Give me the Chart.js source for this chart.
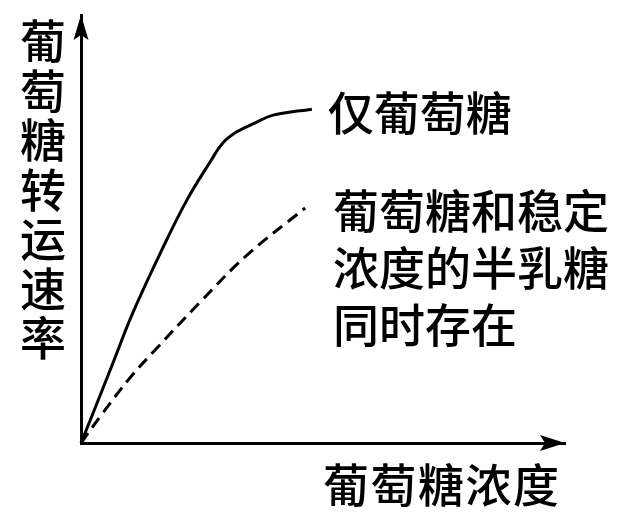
<!DOCTYPE html>
<html>
<head>
<meta charset="utf-8">
<script src="https://cdn.jsdelivr.net/npm/chart.js@4/dist/chart.umd.min.js"></script>
<style>
  html, body { margin: 0; padding: 0; background: #fff; }
  canvas { display: block; }
</style>
</head>
<body>
<canvas id="myChart" width="640" height="526"></canvas>
<script>
// 数据（从原图读取，坐标为相对单位）
const glucoseOnlyX = [0, 0.25, 0.66, 1.07, 1.67, 2.19, 2.67, 2.93, 3.22, 3.60, 3.97, 4.77];
const glucoseOnlyY = [0, 0.70, 1.87, 3.04, 4.51, 5.68, 6.57, 7.01, 7.27, 7.48, 7.66, 7.80];
const withGalactoseX = [0, 0.45, 1.01, 1.57, 2.46, 3.43, 4.63];
const withGalactoseY = [0, 0.70, 1.52, 2.22, 3.29, 4.39, 5.49];

const xTitle = '葡萄糖浓度';
const yTitle = '葡萄糖转运速率';
const labelGlucoseOnly = ['仅葡萄糖'];
const labelWithGalactose = ['葡萄糖和稳定', '浓度的半乳糖', '同时存在'];

const FONT = '"Noto Sans CJK SC", "Noto Sans", sans-serif';

function toPoints(xs, ys) {
    return xs.map((x, i) => ({ x: x, y: ys[i] }));
}

// 逐字绘制文字
function drawChars(ctx, text, x, y, dx, dy) {
    const chars = Array.from(text);
    chars.forEach((c, i) => {
        ctx.fillText(c, x + i * dx, y + i * dy);
    });
}

// 箭头、轴标题和曲线标注
const annotatePlugin = {
    id: 'annotate',
    afterDraw(chart) {
        const ctx = chart.ctx;
        const area = chart.chartArea;
        const xs = chart.scales.x;
        const ys = chart.scales.y;
        ctx.save();
        ctx.fillStyle = '#000';

        // y 轴箭头
        ctx.beginPath();
        ctx.moveTo(area.left, area.top);
        ctx.lineTo(area.left - 7.5, area.top + 25);
        ctx.lineTo(area.left, area.top + 20);
        ctx.lineTo(area.left + 7.5, area.top + 25);
        ctx.closePath();
        ctx.fill();

        // x 轴箭头
        ctx.beginPath();
        ctx.moveTo(area.right, area.bottom);
        ctx.lineTo(area.right - 25, area.bottom - 8);
        ctx.lineTo(area.right - 20, area.bottom);
        ctx.lineTo(area.right - 25, area.bottom + 8);
        ctx.closePath();
        ctx.fill();

        ctx.font = '500 46px ' + FONT;
        ctx.textBaseline = 'middle';
        ctx.textAlign = 'center';

        // y 轴标题（竖排）
        drawChars(ctx, yTitle, 43, 41, 0, 49.5);

        // x 轴标题
        drawChars(ctx, xTitle, area.right - 242 + 23, area.bottom + 42, 47.5, 0);

        // 曲线标注
        ctx.textAlign = 'left';
        const n1 = glucoseOnlyX.length - 1;
        const p1x = xs.getPixelForValue(glucoseOnlyX[n1]);
        const p1y = ys.getPixelForValue(glucoseOnlyY[n1]);
        labelGlucoseOnly.forEach((line, i) => {
            ctx.fillText(line, p1x + 16, p1y + 3 + i * 57);
        });

        const n2 = withGalactoseX.length - 1;
        const p2x = xs.getPixelForValue(withGalactoseX[n2]);
        const p2y = ys.getPixelForValue(withGalactoseY[n2]);
        labelWithGalactose.forEach((line, i) => {
            ctx.fillText(line, p2x + 28, p2y + 2 + i * 57);
        });

        ctx.restore();
    }
};

const ctx = document.getElementById('myChart').getContext('2d');
const chart = new Chart(ctx, {
    type: 'scatter',
    data: {
        datasets: [{
            label: '仅葡萄糖',
            data: toPoints(glucoseOnlyX, glucoseOnlyY),
            showLine: true,
            borderColor: '#000',
            borderWidth: 3,
            pointRadius: 0,
            tension: 0.4,
            clip: false
        }, {
            label: '葡萄糖和稳定浓度的半乳糖同时存在',
            data: toPoints(withGalactoseX, withGalactoseY),
            showLine: true,
            borderColor: '#000',
            borderWidth: 3,
            borderDash: [12, 7],
            pointRadius: 0,
            tension: 0.4,
            clip: false
        }]
    },
    options: {
        responsive: false,
        animation: false,
        devicePixelRatio: 1,
        layout: {
            padding: { left: 81, top: 15, right: 75, bottom: 83 }
        },
        plugins: {
            legend: { display: false },
            tooltip: { enabled: false }
        },
        scales: {
            x: {
                type: 'linear',
                min: 0,
                max: 10,
                grid: { display: false, drawTicks: false },
                ticks: { display: false },
                border: { display: true, color: '#000', width: 3 }
            },
            y: {
                type: 'linear',
                min: 0,
                max: 10,
                grid: { display: false, drawTicks: false },
                ticks: { display: false },
                border: { display: true, color: '#000', width: 3 }
            }
        }
    },
    plugins: [annotatePlugin]
});
</script>
</body>
</html>
